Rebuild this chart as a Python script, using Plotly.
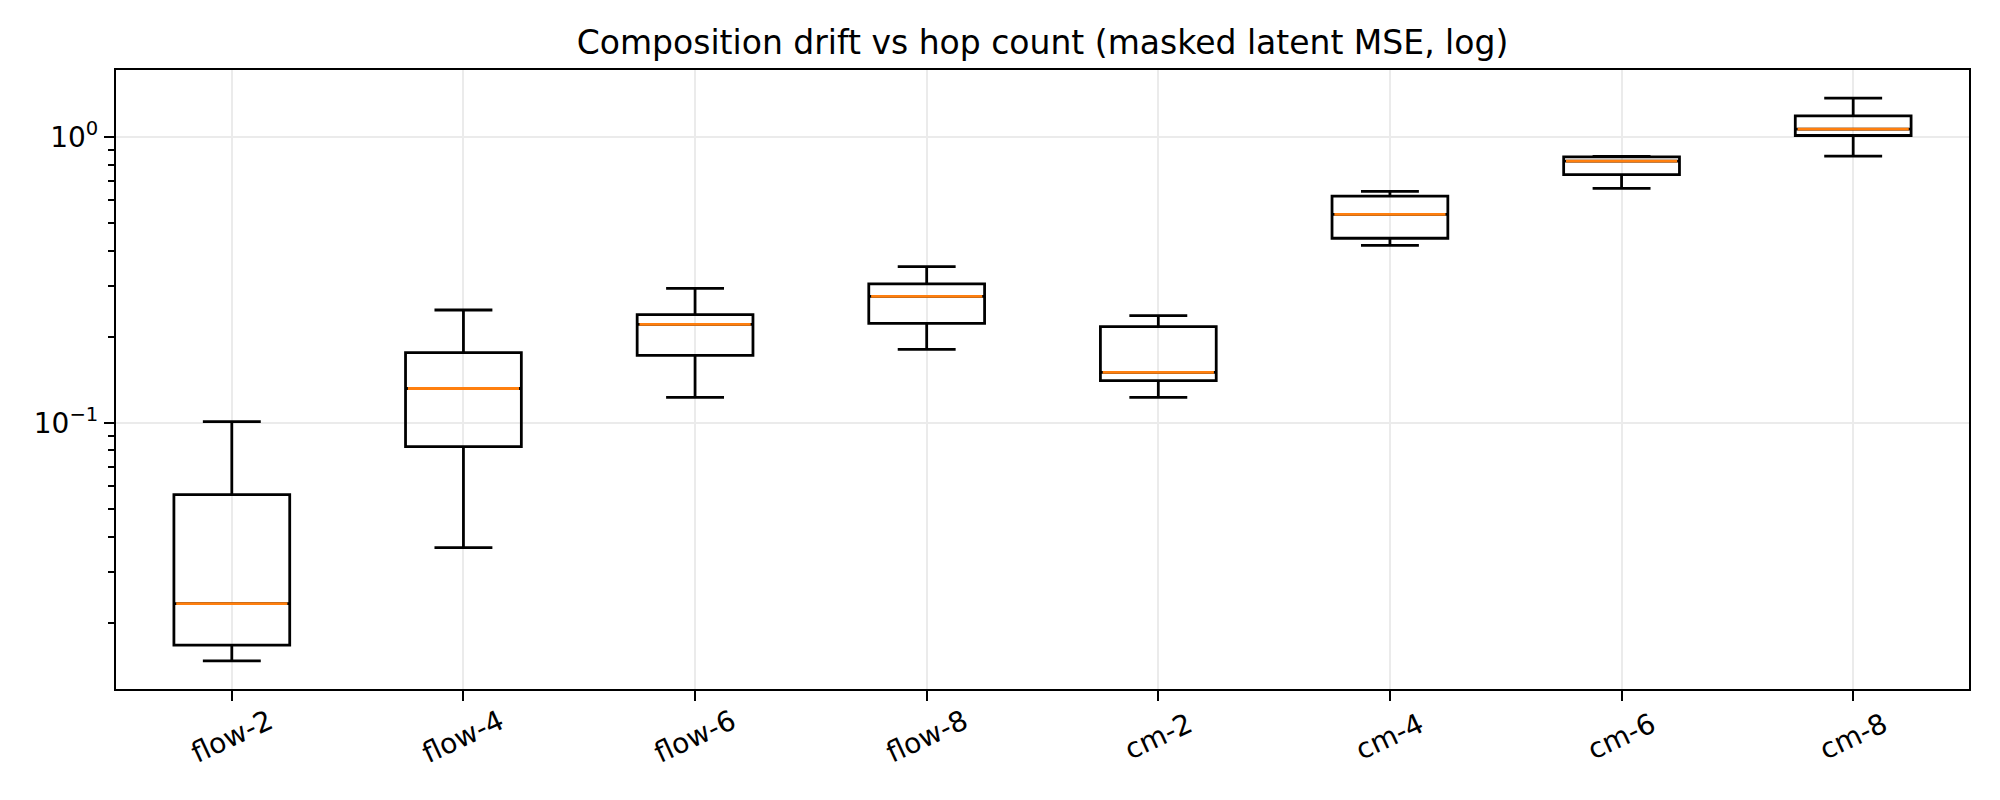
import math
import plotly.graph_objects as go

categories = ["flow-2", "flow-4", "flow-6", "flow-8", "cm-2", "cm-4", "cm-6", "cm-8"]
lower_whisker = [0.0147, 0.0366, 0.1226, 0.1805, 0.1226, 0.417, 0.661, 0.856]
q1_values = [0.0167, 0.0826, 0.172, 0.2225, 0.1405, 0.442, 0.738, 1.011]
median_values = [0.0233, 0.1318, 0.221, 0.2767, 0.150, 0.536, 0.822, 1.064]
q3_values = [0.0561, 0.176, 0.239, 0.306, 0.217, 0.620, 0.851, 1.185]
upper_whisker = [0.101, 0.248, 0.295, 0.352, 0.237, 0.645, 0.855, 1.366]
y_tick_values = [0.1, 1.0]
y_tick_labels = ["10<sup>−1</sup>", "10<sup>0</sup>"]

title_text = "Composition drift vs hop count (masked latent MSE, log)"

positions = list(range(1, len(categories) + 1))
FONT = "DejaVu Sans"
LW = 2.2
BOX_LW = 2.78

# page has an 8px body margin; size the figure so it fits the 2000x800 window
W, H = 1984, 784
ML, MR, MT, MB = 108, 23, 62, 103

fig = go.Figure()
for i, name in enumerate(categories):
    fig.add_trace(go.Box(
        x=[positions[i]],
        q1=[q1_values[i]], median=[median_values[i]], q3=[q3_values[i]],
        lowerfence=[lower_whisker[i]], upperfence=[upper_whisker[i]],
        width=0.5, whiskerwidth=0.5,
        fillcolor="rgba(0,0,0,0)",
        line=dict(color="black", width=BOX_LW),
        boxpoints=False, showlegend=False, name=name, hoverinfo="skip",
    ))

# orange median lines
mx, my = [], []
for i, m in enumerate(median_values):
    mx += [positions[i] - 0.25 + 0.01, positions[i] + 0.25 - 0.01, None]
    my += [m, m, None]
fig.add_trace(go.Scatter(x=mx, y=my, mode="lines",
                         line=dict(color="#ff7f0e", width=BOX_LW),
                         showlegend=False, hoverinfo="skip"))

lo = math.log10(min(lower_whisker))
hi = math.log10(max(upper_whisker))
pad = 0.05 * (hi - lo)

minor_ticks = [m * 10.0 ** e for e in range(math.floor(lo - pad), math.ceil(hi + pad))
               for m in range(2, 10)]

# rotated category labels, centred under each tick (matplotlib style)
for i, name in enumerate(categories):
    fig.add_annotation(x=positions[i], xref="x", y=0, yref="paper",
                       yshift=-47, text=name, textangle=-25, showarrow=False,
                       xanchor="center", yanchor="middle",
                       font=dict(family=FONT, size=28, color="black"))

fig.update_layout(
    width=W, height=H,
    paper_bgcolor="white", plot_bgcolor="white",
    margin=dict(l=ML, r=MR, t=MT, b=MB),
    font=dict(family=FONT, color="black", size=28),
    title=dict(text=title_text, x=(ML + (W - MR)) / 2 / W, xanchor="center",
               y=1 - 34 / H, yanchor="middle",
               font=dict(family=FONT, size=33, color="black")),
)
fig.update_xaxes(
    range=[0.5, len(categories) + 0.5], automargin=False,
    tickvals=positions, ticktext=[""] * len(categories),
    ticks="outside", ticklen=10, tickwidth=LW, tickcolor="black",
    showline=True, linecolor="black", linewidth=LW, mirror=True,
    showgrid=True, gridcolor="#ebebeb", gridwidth=2,
    zeroline=False, tickfont=dict(size=28, family=FONT),
)
fig.update_yaxes(
    type="log", range=[lo - pad, hi + pad], automargin=False,
    tickvals=y_tick_values, ticktext=y_tick_labels,
    ticks="outside", ticklen=10, tickwidth=LW, tickcolor="black",
    showline=True, linecolor="black", linewidth=LW, mirror=True,
    showgrid=True, gridcolor="#ebebeb", gridwidth=2,
    zeroline=False, tickfont=dict(size=28, family=FONT),
    minor=dict(tickvals=minor_ticks, ticks="outside", ticklen=6, tickwidth=1.7,
               tickcolor="black", showgrid=False),
)

fig.write_html("out.html")
